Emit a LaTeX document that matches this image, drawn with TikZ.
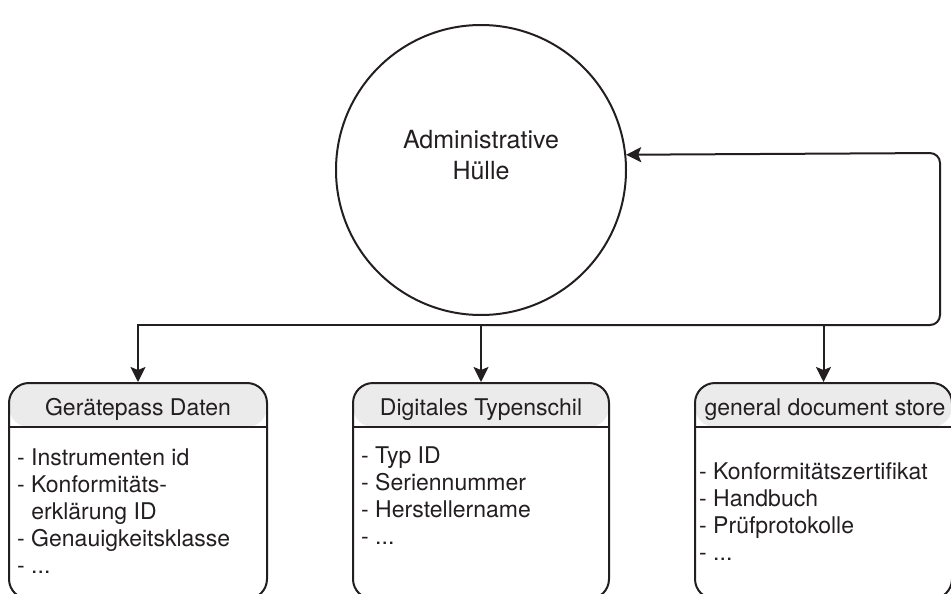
\documentclass[tikz,border=0pt]{standalone}
\usepackage{fontspec}
\setmainfont{TeX Gyre Heros}
\usetikzlibrary{arrows.meta}
\definecolor{ink}{HTML}{231F20}
\definecolor{headfill}{HTML}{EBEBEB}
\begin{document}
\begin{tikzpicture}[x=1pt,y=-1pt,
  txt/.style={text=ink, font=\fontsize{23}{27}\selectfont, inner sep=0pt},
  conn/.style={draw=ink, line width=2pt, -{Stealth[length=15pt,width=15pt,inset=3pt]}},
  hub/.style={circle, draw=ink, line width=2pt, minimum size=290pt, inner sep=0pt},
  card/.style={rectangle, draw=ink, line width=2pt, rounded corners=20pt,
    minimum height=216pt, inner sep=0pt,
    path picture={
      \fill[headfill] (path picture bounding box.north west) rectangle
        ([yshift=-44pt]path picture bounding box.north east);
      \draw[ink, line width=2pt] ([yshift=-44pt]path picture bounding box.north west) --
        ([yshift=-44pt]path picture bounding box.north east);
    }},
  title/.style={txt, anchor=base},
  body/.style={txt, anchor=north west, align=left}
]
\useasboundingbox (0,0) rectangle (951,594);

% central circle
\node[hub] (hub) at (481,170) {};
\node[txt, align=center, font=\fontsize{25}{31}\selectfont] (hubtext) at (481,155.5)
  {Administrative\\Hülle};

% three cards
\node[card, minimum width=258pt] (b1) at (138,491) {};
\node[card, minimum width=256pt] (b2) at (481,491) {};
\node[card, minimum width=257pt] (b3) at (823.5,491) {};

% card titles
\node[title] (t1) at (138,415) {Gerätepass Daten};
\node[title] (t2) at (481,415) {Digitales Typenschil};
\node[title] (t3) at (825,415) {general document store};

% card contents
\node[body] (c1) at (17,449)
  {- Instrumenten id\\- Konformitäts-\\\phantom{- }erklärung ID\\- Genauigkeitsklasse\\- ...};
\node[body] (c2) at (361,447)
  {- Typ ID\\- Seriennummer\\- Herstellername\\- ...};
\node[body] (c3) at (699,462)
  {- Konformitätszertifikat\\- Handbuch\\- Prüfprotokolle\\- ...};

% connectors
\coordinate (busR) at (940,325);
\coordinate (busT) at (940,153);
\draw[conn] (b2.north |- busR) -| (b1.north);
\draw[conn] (b2.north |- busR) -- (b2.north);
\draw[conn] (b3.north |- busR) -- (b3.north);
\draw[conn, rounded corners=10pt] (b2.north |- busR) -- (busR) -- (busT) -- (hub.6.73);
\end{tikzpicture}
\end{document}
